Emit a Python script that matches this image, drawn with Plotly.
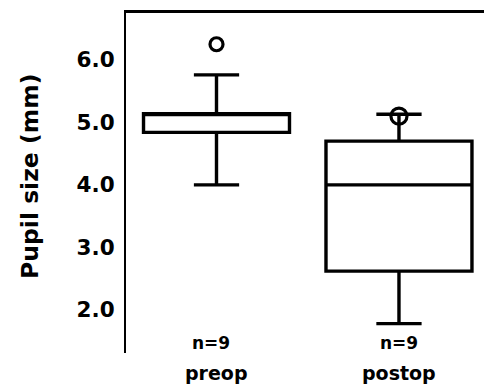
import plotly.graph_objects as go

groups = ["preop", "postop"]
positions = [0, 1]
q1 = [4.84, 2.62]
median = [5.14, 4.0]
q3 = [5.14, 4.70]
lower_whisker = [4.0, 1.78]
upper_whisker = [5.76, 5.13]
outliers = [[6.25], [5.10]]
n_labels = ["n=9", "n=9"]
ytick_vals = [2, 3, 4, 5, 6]
ytick_text = ["2.0", "3.0", "4.0", "5.0", "6.0"]
y_title = "Pupil size (mm)"

FONT = "DejaVu Sans, sans-serif"

fig = go.Figure()
for i, g in enumerate(groups):
    fig.add_trace(go.Box(
        x=[positions[i]], q1=[q1[i]], median=[median[i]], q3=[q3[i]],
        lowerfence=[lower_whisker[i]], upperfence=[upper_whisker[i]],
        width=0.8, whiskerwidth=0.31, boxpoints=False,
        line=dict(color="black", width=3.4), fillcolor="white",
        name=g, showlegend=False,
    ))
    fig.add_trace(go.Scatter(
        x=[positions[i]] * len(outliers[i]), y=outliers[i], mode="markers",
        marker=dict(symbol="circle-open", size=13 if i == 0 else 16,
                    color="black", line=dict(width=3.2, color="black")),
        showlegend=False,
    ))
    fig.add_annotation(x=positions[i], y=0.029, xref="x", yref="paper",
                       text=n_labels[i], showarrow=False, yanchor="middle",
                       xshift=-6 if i == 0 else 0,
                       font=dict(family=FONT, size=17, color="black", weight="bold"))
    fig.add_annotation(x=positions[i], y=-0.059, xref="x", yref="paper",
                       text=g, showarrow=False, yanchor="middle",
                       font=dict(family=FONT, size=19, color="black", weight="bold"))

fig.add_annotation(x=-0.268, y=0.518, xref="paper", yref="paper", text=y_title,
                   textangle=-90, showarrow=False, xanchor="center", yanchor="middle",
                   font=dict(family=FONT, size=23.5, color="black", weight="bold"))

fig.update_layout(
    width=484, height=386,
    margin=dict(l=126, r=0, t=13, b=33),
    paper_bgcolor="white", plot_bgcolor="white",
    font=dict(family=FONT, color="black"),
    xaxis=dict(range=[-0.496, 1.466], side="top", showline=True, linecolor="black",
               linewidth=2.5, showticklabels=False, ticks="", showgrid=False,
               zeroline=False),
    yaxis=dict(range=[1.31, 6.75], showline=True, linecolor="black", linewidth=2,
               tickvals=ytick_vals, ticktext=ytick_text, ticks="", showgrid=False,
               zeroline=False, ticklabelstandoff=5,
               tickfont=dict(family=FONT, size=21.5, color="black", weight="bold")),
)

fig.write_html("out.html")
